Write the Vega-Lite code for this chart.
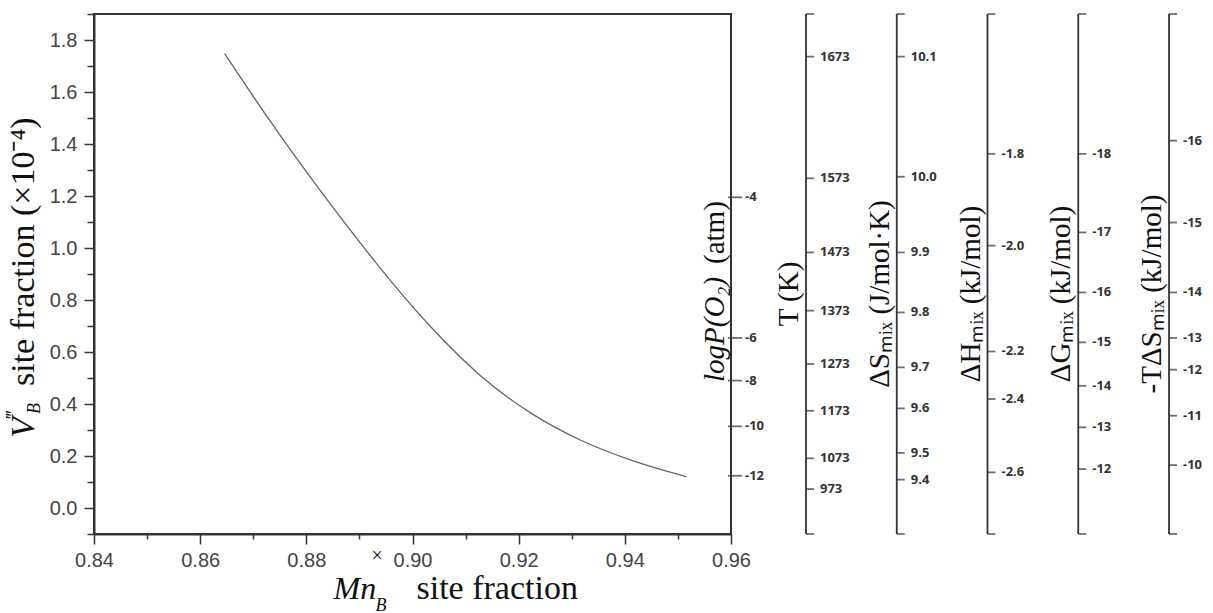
{
  "$schema": "https://vega.github.io/schema/vega-lite/v6.json",
  "padding": {"left": 2, "top": 3, "right": 5, "bottom": 0},
  "background": "white",
  "config": {
    "font": "Liberation Sans",
    "axis": {"grid": false, "domainColor": "#333", "domainWidth": 2, "tickColor": "#333", "tickWidth": 1.5, "labelFont": "Liberation Sans", "labelFontSize": 20, "labelColor": "#444", "labelOverlap": false, "labelFlush": false}
  },
  "datasets": {
    "curve": [
      {"x": 0.8646, "y": 1.748},
      {"x": 0.8728, "y": 1.496},
      {"x": 0.8816, "y": 1.246},
      {"x": 0.8941, "y": 0.913},
      {"x": 0.9035, "y": 0.69},
      {"x": 0.913, "y": 0.497},
      {"x": 0.9224, "y": 0.358},
      {"x": 0.9318, "y": 0.255},
      {"x": 0.9413, "y": 0.18},
      {"x": 0.9516, "y": 0.12}
    ],
    "axes": [
      {"axis": "logP", "title": "logP(O₂)", "title2": "(atm)"},
      {"axis": "T", "title": "T (K)"},
      {"axis": "ΔS", "title": "ΔSₘᵢₓ (J/mol·K)"},
      {"axis": "ΔH", "title": "ΔHₘᵢₓ (kJ/mol)"},
      {"axis": "ΔG", "title": "ΔGₘᵢₓ (kJ/mol)"},
      {"axis": "-TΔS", "title": "-TΔSₘᵢₓ (kJ/mol)"}
    ],
    "ticks": [
      {"axis": "logP", "label": "-4", "v": 1.195},
      {"axis": "logP", "label": "-6", "v": 0.654},
      {"axis": "logP", "label": "-8", "v": 0.49},
      {"axis": "logP", "label": "-10", "v": 0.314},
      {"axis": "logP", "label": "-12", "v": 0.124},
      {"axis": "T", "label": "1673", "v": 1.736},
      {"axis": "T", "label": "1573", "v": 1.268},
      {"axis": "T", "label": "1473", "v": 0.983},
      {"axis": "T", "label": "1373", "v": 0.759},
      {"axis": "T", "label": "1273", "v": 0.554},
      {"axis": "T", "label": "1173", "v": 0.374},
      {"axis": "T", "label": "1073", "v": 0.191},
      {"axis": "T", "label": "973", "v": 0.073},
      {"axis": "ΔS", "label": "10.1", "v": 1.736},
      {"axis": "ΔS", "label": "10.0", "v": 1.274},
      {"axis": "ΔS", "label": "9.9", "v": 0.983},
      {"axis": "ΔS", "label": "9.8", "v": 0.752},
      {"axis": "ΔS", "label": "9.7", "v": 0.541},
      {"axis": "ΔS", "label": "9.6", "v": 0.383},
      {"axis": "ΔS", "label": "9.5", "v": 0.212},
      {"axis": "ΔS", "label": "9.4", "v": 0.109},
      {"axis": "ΔH", "label": "-1.8", "v": 1.362},
      {"axis": "ΔH", "label": "-2.0", "v": 1.009},
      {"axis": "ΔH", "label": "-2.2", "v": 0.602},
      {"axis": "ΔH", "label": "-2.4", "v": 0.419},
      {"axis": "ΔH", "label": "-2.6", "v": 0.137},
      {"axis": "ΔG", "label": "-18", "v": 1.362},
      {"axis": "ΔG", "label": "-17", "v": 1.06},
      {"axis": "ΔG", "label": "-16", "v": 0.829},
      {"axis": "ΔG", "label": "-15", "v": 0.637},
      {"axis": "ΔG", "label": "-14", "v": 0.47},
      {"axis": "ΔG", "label": "-13", "v": 0.31},
      {"axis": "ΔG", "label": "-12", "v": 0.15},
      {"axis": "-TΔS", "label": "-16", "v": 1.413},
      {"axis": "-TΔS", "label": "-15", "v": 1.098},
      {"axis": "-TΔS", "label": "-14", "v": 0.829},
      {"axis": "-TΔS", "label": "-13", "v": 0.654},
      {"axis": "-TΔS", "label": "-12", "v": 0.532},
      {"axis": "-TΔS", "label": "-11", "v": 0.355},
      {"axis": "-TΔS", "label": "-10", "v": 0.165}
    ],
    "titleParts": [
      {"id": "xMn", "text": "Mn"},
      {"id": "xSup", "text": "×"},
      {"id": "xSub", "text": "B"},
      {"id": "xRest", "text": "site fraction"},
      {"id": "yV", "text": "V"},
      {"id": "ySup", "text": "‴"},
      {"id": "ySub", "text": "B"},
      {"id": "yRest", "text": "site fraction (×10⁻⁴)"}
    ]
  },
  "bounds": "flush",
  "spacing": 75,
  "hconcat": [
    {
      "width": 637,
      "height": 520,
      "view": {"stroke": "#333", "strokeWidth": 2},
      "resolve": {"axis": {"x": "independent", "y": "independent"}},
      "layer": [
        {
          "data": {"name": "curve"},
          "mark": {"type": "line", "color": "#666", "strokeWidth": 1.3, "interpolate": "basis"},
          "encoding": {
            "x": {
              "field": "x", "type": "quantitative",
              "scale": {"domain": [0.84, 0.96], "nice": false, "zero": false},
              "axis": {
                "title": null,
                "values": [0.84, 0.85, 0.86, 0.87, 0.88, 0.89, 0.9, 0.91, 0.92, 0.93, 0.94, 0.95, 0.96],
                "labelExpr": "abs(round(datum.value*100)) % 2 == 0 ? format(datum.value, '.2f') : ''",
                "tickSize": {"condition": {"test": "abs(round(datum.value*100)) % 2 == 0", "value": 10}, "value": 5},
                "labelPadding": 6
              }
            },
            "y": {
              "field": "y", "type": "quantitative",
              "scale": {"domain": [-0.1, 1.9], "nice": false, "zero": false},
              "axis": {
                "title": null,
                "values": [-0.1, 0, 0.1, 0.2, 0.3, 0.4, 0.5, 0.6, 0.7, 0.8, 0.9, 1, 1.1, 1.2, 1.3, 1.4, 1.5, 1.6, 1.7, 1.8, 1.9],
                "labelExpr": "abs(round(datum.value*10)) % 2 == 0 ? format(datum.value, '.1f') : ''",
                "tickSize": {"condition": {"test": "abs(round(datum.value*10)) % 2 == 0", "value": 10}, "value": 7},
                "labelPadding": 7
              }
            }
          }
        },
        {
          "data": {"name": "ticks"},
          "transform": [{"filter": "datum.axis == 'logP'"}],
          "mark": {"type": "tick", "orient": "horizontal", "size": 14, "thickness": 1.8, "xOffset": 4, "color": "#333"},
          "encoding": {
            "x": {"datum": 0.96, "type": "quantitative", "axis": null},
            "y": {"field": "v", "type": "quantitative", "axis": null}
          }
        },
        {
          "data": {"name": "ticks"},
          "transform": [{"filter": "datum.axis == 'logP'"}],
          "mark": {"type": "text", "align": "left", "baseline": "middle", "dx": 14, "font": "Open Sans", "fontWeight": "bold", "fontSize": 13, "color": "#333"},
          "encoding": {
            "x": {"datum": 0.96, "type": "quantitative", "axis": null},
            "y": {"field": "v", "type": "quantitative", "axis": null},
            "text": {"field": "label"}
          }
        },
        {
          "data": {"name": "axes"},
          "transform": [{"filter": "datum.axis == 'logP'"}],
          "mark": {"type": "text", "align": "left", "baseline": "alphabetic", "angle": 270, "dx": -108, "dy": -7, "font": "Liberation Serif", "fontStyle": "italic", "fontSize": 29, "color": "#111"},
          "encoding": {
            "x": {"datum": 0.96, "type": "quantitative", "axis": null},
            "text": {"field": "title"}
          }
        },
        {
          "data": {"name": "axes"},
          "transform": [{"filter": "datum.axis == 'logP'"}],
          "mark": {"type": "text", "align": "left", "baseline": "alphabetic", "angle": 270, "dx": 10, "dy": -7, "font": "Liberation Serif", "fontSize": 29, "color": "#111"},
          "encoding": {
            "x": {"datum": 0.96, "type": "quantitative", "axis": null},
            "text": {"field": "title2"}
          }
        },
        {
          "data": {"name": "titleParts"},
          "transform": [{"filter": "datum.id == 'xMn'"}],
          "mark": {"type": "text", "align": "left", "baseline": "alphabetic", "dx": -79, "dy": 325, "font": "Liberation Serif", "fontStyle": "italic", "fontSize": 32, "color": "#111"},
          "encoding": {"text": {"field": "text"}}
        },
        {
          "data": {"name": "titleParts"},
          "transform": [{"filter": "datum.id == 'xSup'"}],
          "mark": {"type": "text", "align": "left", "baseline": "alphabetic", "dx": -41, "dy": 288, "font": "Liberation Serif", "fontSize": 20, "color": "#111"},
          "encoding": {"text": {"field": "text"}}
        },
        {
          "data": {"name": "titleParts"},
          "transform": [{"filter": "datum.id == 'xSub'"}],
          "mark": {"type": "text", "align": "left", "baseline": "alphabetic", "dx": -37, "dy": 337, "font": "Liberation Serif", "fontStyle": "italic", "fontSize": 18, "color": "#111"},
          "encoding": {"text": {"field": "text"}}
        },
        {
          "data": {"name": "titleParts"},
          "transform": [{"filter": "datum.id == 'xRest'"}],
          "mark": {"type": "text", "align": "left", "baseline": "alphabetic", "dx": 4, "dy": 325, "font": "Liberation Serif", "fontSize": 34, "color": "#111"},
          "encoding": {"text": {"field": "text"}}
        },
        {
          "data": {"name": "titleParts"},
          "transform": [{"filter": "datum.id == 'yV'"}],
          "mark": {"type": "text", "align": "left", "baseline": "alphabetic", "angle": 270, "dx": -164, "dy": -379, "font": "Liberation Serif", "fontStyle": "italic", "fontSize": 34, "color": "#111"},
          "encoding": {"text": {"field": "text"}}
        },
        {
          "data": {"name": "titleParts"},
          "transform": [{"filter": "datum.id == 'ySup'"}],
          "mark": {"type": "text", "align": "left", "baseline": "alphabetic", "angle": 270, "dx": -146, "dy": -393, "font": "Liberation Serif", "fontStyle": "italic", "fontSize": 20, "color": "#111"},
          "encoding": {"text": {"field": "text"}}
        },
        {
          "data": {"name": "titleParts"},
          "transform": [{"filter": "datum.id == 'ySub'"}],
          "mark": {"type": "text", "align": "left", "baseline": "alphabetic", "angle": 270, "dx": -140, "dy": -373, "font": "Liberation Serif", "fontStyle": "italic", "fontSize": 18, "color": "#111"},
          "encoding": {"text": {"field": "text"}}
        },
        {
          "data": {"name": "titleParts"},
          "transform": [{"filter": "datum.id == 'yRest'"}],
          "mark": {"type": "text", "align": "left", "baseline": "alphabetic", "angle": 270, "dx": -112, "dy": -379, "font": "Liberation Serif", "fontSize": 34, "color": "#111"},
          "encoding": {"text": {"field": "text"}}
        }
      ]
    },
    {
      "width": 363,
      "height": 520,
      "view": {"stroke": null},
      "layer": [
        {
          "data": {"name": "axes"},
          "transform": [{"filter": "datum.axis != 'logP'"}],
          "mark": {"type": "rule", "color": "#333", "strokeWidth": 1.8},
          "encoding": {
            "x": {"field": "axis", "type": "nominal", "scale": {"type": "point", "domain": ["T", "ΔS", "ΔH", "ΔG", "-TΔS"], "padding": 0}, "axis": null}
          }
        },
        {
          "data": {"name": "axes"},
          "transform": [{"filter": "datum.axis != 'logP'"}],
          "mark": {"type": "tick", "orient": "horizontal", "size": 8, "thickness": 1.8, "xOffset": 4, "color": "#333"},
          "encoding": {
            "x": {"field": "axis", "type": "nominal", "axis": null},
            "y": {"datum": 1.9, "type": "quantitative", "scale": {"domain": [-0.1, 1.9], "nice": false, "zero": false}, "axis": null}
          }
        },
        {
          "data": {"name": "axes"},
          "transform": [{"filter": "datum.axis != 'logP'"}],
          "mark": {"type": "tick", "orient": "horizontal", "size": 8, "thickness": 1.8, "xOffset": 4, "color": "#333"},
          "encoding": {
            "x": {"field": "axis", "type": "nominal", "axis": null},
            "y": {"datum": -0.1, "type": "quantitative", "axis": null}
          }
        },
        {
          "data": {"name": "ticks"},
          "transform": [{"filter": "datum.axis != 'logP'"}],
          "mark": {"type": "tick", "orient": "horizontal", "size": 8, "thickness": 1.8, "xOffset": 4, "color": "#333"},
          "encoding": {
            "x": {"field": "axis", "type": "nominal", "axis": null},
            "y": {"field": "v", "type": "quantitative", "axis": null}
          }
        },
        {
          "data": {"name": "ticks"},
          "transform": [{"filter": "datum.axis != 'logP'"}],
          "mark": {"type": "text", "align": "left", "baseline": "middle", "dx": 14, "font": "Open Sans", "fontWeight": "bold", "fontSize": 13, "color": "#333"},
          "encoding": {
            "x": {"field": "axis", "type": "nominal", "axis": null},
            "y": {"field": "v", "type": "quantitative", "axis": null},
            "text": {"field": "label"}
          }
        },
        {
          "data": {"name": "axes"},
          "transform": [{"filter": "datum.axis != 'logP'"}],
          "mark": {"type": "text", "align": "center", "baseline": "alphabetic", "angle": 270, "dx": -20, "dy": -8, "font": "Liberation Serif", "fontSize": 29, "color": "#111"},
          "encoding": {
            "x": {"field": "axis", "type": "nominal", "axis": null},
            "text": {"field": "title"}
          }
        }
      ]
    }
  ]
}
